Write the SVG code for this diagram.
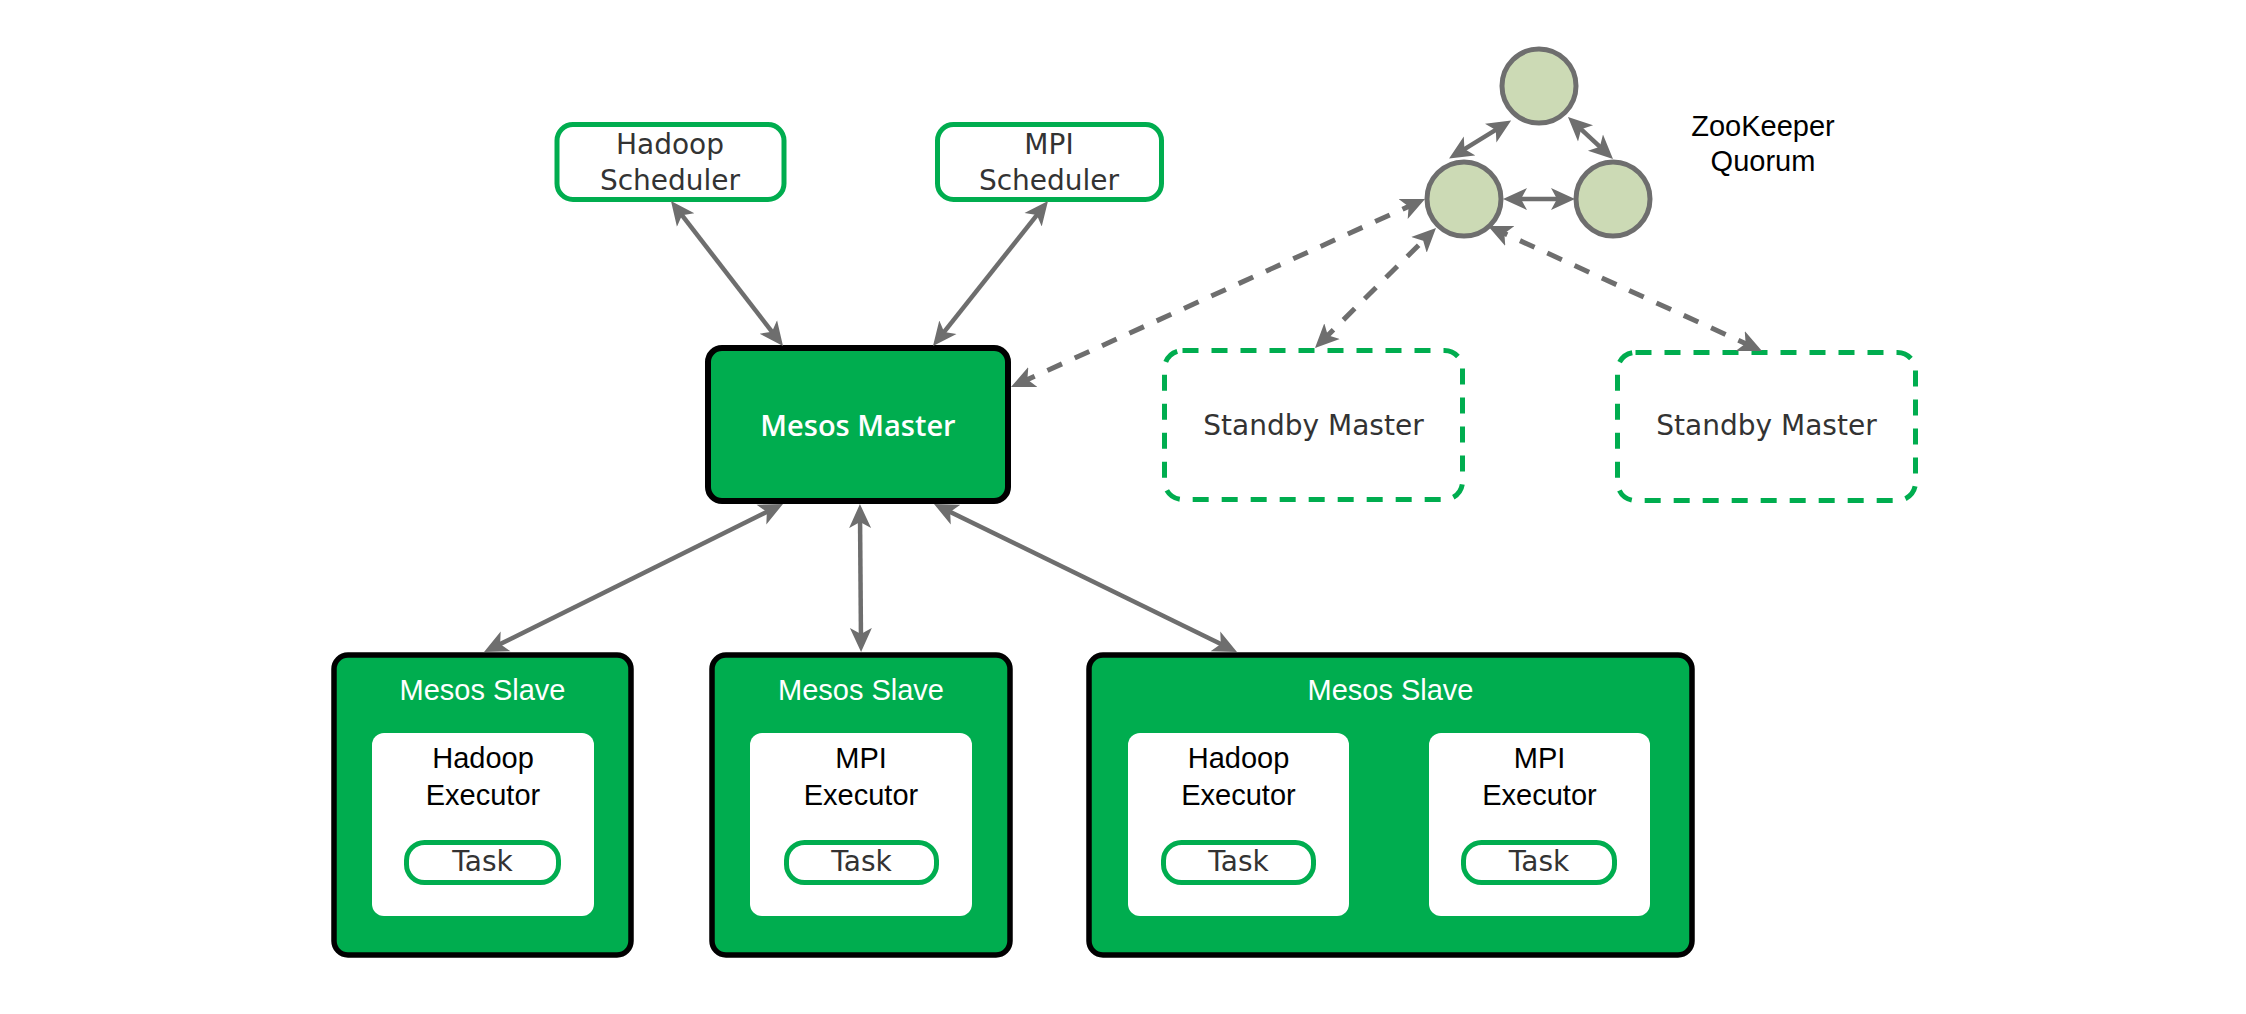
<svg xmlns="http://www.w3.org/2000/svg" width="2246" height="1014" viewBox="0 0 2246 1014">
<style>
.bg{fill:#ffffff}
.sched{fill:#ffffff;stroke:#00AD4F;stroke-width:5}
.master{fill:#00AD4F;stroke:#000000;stroke-width:6}
.slave{fill:#00AD4F;stroke:#000000;stroke-width:5.5}
.inner{fill:#ffffff}
.task{fill:#ffffff;stroke:#00AD4F;stroke-width:5}
.standby{fill:none;stroke:#00AD4F;stroke-width:5;stroke-dasharray:16 13}
.zk{fill:#CCDAB5;stroke:#6E6E6E;stroke-width:5}
.gt{font-family:"DejaVu Sans","Open Sans",sans-serif;font-size:28px;fill:#333333;text-anchor:middle}
.mt{font-family:"Open Sans","Liberation Sans",sans-serif;font-size:29px;font-weight:600;fill:#ffffff;text-anchor:middle}
.st{font-family:"Liberation Sans",Arial,sans-serif;font-size:29px;fill:#ffffff;text-anchor:middle}
.et{font-family:"Liberation Sans",Arial,sans-serif;font-size:29px;fill:#000000;text-anchor:middle}
.zt{font-family:"Liberation Sans",Arial,sans-serif;font-size:29px;fill:#000000;text-anchor:middle}
.conn{fill:none;stroke:#6E6E6E;stroke-width:4.5;marker-start:url(#ah);marker-end:url(#ah)}
.dash{stroke-dasharray:16 14;stroke-width:5}
</style>
<defs>
<marker id="ah" markerUnits="userSpaceOnUse" viewBox="0 -12 26 24" refX="14" refY="0" markerWidth="26" markerHeight="24" orient="auto-start-reverse">
<path d="M0,-11 L24,0 L0,11 L6,0 Z" fill="#6E6E6E"/>
</marker>
</defs>
<rect class="bg" x="0" y="0" width="2246" height="1014"/>

<g id="hadoop-scheduler">
<rect class="sched" x="557" y="124.5" width="227" height="75" rx="16"/>
<text class="gt" x="670" y="154">Hadoop</text>
<text class="gt" x="670" y="190">Scheduler</text>
</g>
<g id="mpi-scheduler">
<rect class="sched" x="937.5" y="124.5" width="224" height="75" rx="16"/>
<text class="gt" x="1049" y="154">MPI</text>
<text class="gt" x="1049" y="190">Scheduler</text>
</g>
<g id="mesos-master">
<rect class="master" x="708" y="348" width="300" height="153" rx="14"/>
<text class="mt" x="858" y="436">Mesos Master</text>
</g>
<g id="standby-master-1">
<rect class="standby" x="1164.5" y="350.5" width="298" height="149" rx="18"/>
<text class="gt" x="1313.5" y="435">Standby Master</text>
</g>
<g id="standby-master-2">
<rect class="standby" x="1617.5" y="352.5" width="298" height="148" rx="18"/>
<text class="gt" x="1766.5" y="435">Standby Master</text>
</g>
<g id="zk-top"><circle class="zk" cx="1539" cy="86" r="37"/></g>
<g id="zk-left"><circle class="zk" cx="1464" cy="199" r="37"/></g>
<g id="zk-right"><circle class="zk" cx="1613" cy="199" r="37"/></g>
<g id="zk-label">
<text class="zt" x="1763" y="136">ZooKeeper</text>
<text class="zt" x="1763" y="171">Quorum</text>
</g>

<g id="slave-1">
<rect class="slave" x="334" y="655" width="297" height="300" rx="14"/>
<text class="st" x="482.5" y="700">Mesos Slave</text>
<rect class="inner" x="372" y="733" width="222" height="183" rx="12"/>
<text class="et" x="483" y="768">Hadoop</text>
<text class="et" x="483" y="805">Executor</text>
<rect class="task" x="406.5" y="842.5" width="152" height="40" rx="18"/>
<text class="gt" x="482.5" y="871">Task</text>
</g>
<g id="slave-2">
<rect class="slave" x="712" y="655" width="298" height="300" rx="14"/>
<text class="st" x="861" y="700">Mesos Slave</text>
<rect class="inner" x="750" y="733" width="222" height="183" rx="12"/>
<text class="et" x="861" y="768">MPI</text>
<text class="et" x="861" y="805">Executor</text>
<rect class="task" x="786.5" y="842.5" width="150" height="40" rx="18"/>
<text class="gt" x="861.5" y="871">Task</text>
</g>
<g id="slave-3">
<rect class="slave" x="1089" y="655" width="603" height="300" rx="14"/>
<text class="st" x="1390.5" y="700">Mesos Slave</text>
<rect class="inner" x="1128" y="733" width="221" height="183" rx="12"/>
<text class="et" x="1238.5" y="768">Hadoop</text>
<text class="et" x="1238.5" y="805">Executor</text>
<rect class="task" x="1163.5" y="842.5" width="150" height="40" rx="18"/>
<text class="gt" x="1238.5" y="871">Task</text>
<rect class="inner" x="1429" y="733" width="221" height="183" rx="12"/>
<text class="et" x="1539.5" y="768">MPI</text>
<text class="et" x="1539.5" y="805">Executor</text>
<rect class="task" x="1463.5" y="842.5" width="151" height="40" rx="18"/>
<text class="gt" x="1539" y="871">Task</text>
</g>

<g id="connectors">
<line class="conn" x1="677.1" y1="208.9" x2="776.9" y2="338.1"/>
<line class="conn" x1="1041.8" y1="208.8" x2="939.2" y2="338.2"/>
<line class="conn" x1="774" y1="508.4" x2="493" y2="647.6"/>
<line class="conn" x1="860" y1="514" x2="861" y2="642"/>
<line class="conn" x1="943" y1="508.4" x2="1228" y2="647.6"/>
<line class="conn" x1="1502.6" y1="125.7" x2="1457.6" y2="153.3"/>
<line class="conn" x1="1575.3" y1="123.8" x2="1605.7" y2="152.2"/>
<line class="conn" x1="1513" y1="199" x2="1565" y2="199"/>
<line class="conn dash" x1="1020.1" y1="382.9" x2="1415.9" y2="203.1"/>
<line class="conn dash" x1="1322.1" y1="341" x2="1428.9" y2="235"/>
<line class="conn dash" x1="1752.9" y1="346.9" x2="1497.1" y2="230.2"/>
</g>
</svg>
